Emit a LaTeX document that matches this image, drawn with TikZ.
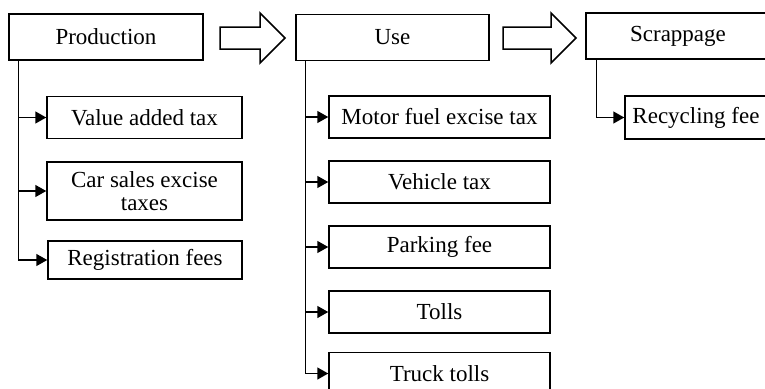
\documentclass[tikz,border=0pt]{standalone}
\usepackage{fontspec}
\setmainfont{Liberation Serif}
\usetikzlibrary{arrows.meta,positioning}

\tikzset{
	box/.style={draw, line width=1.5pt, inner sep=2pt, align=center, font=\fontsize{23}{23}\selectfont},
	stage/.style={box, minimum height=46pt},
	tax/.style={box, minimum height=42pt},
	link/.style={line width=1.5pt, -{Triangle[length=11pt,width=12pt]}},
	hollow/.style={line width=1.5pt, line join=miter},
}

\begin{document}
\begin{tikzpicture}[x=1pt,y=-1pt]
		\useasboundingbox (0,0) rectangle (765,388);
		\clip (0,0) rectangle (765,388);
		% stages
		\node[stage, minimum width=194pt] (prod) at (106,37) {Production};
		\node[stage, minimum width=193pt] (use) at (392.5,37.5) {Use};
		\node[stage, minimum width=184pt] (scrap) at (678,36) {Scrappage};
		% big hollow arrows
		\draw[hollow] (220,27) -- (260,27) -- (260,13) -- (285,38) -- (260,63) -- (260,49) -- (220,49) -- cycle;
		\draw[hollow] (503,27) -- (551,27) -- (551,13) -- (576,38) -- (551,63) -- (551,49) -- (503,49) -- cycle;
		% production taxes
		\node[tax, minimum width=195pt] (vat) at (144.5,117.5) {Value added tax};
		\node[tax, minimum width=195pt, minimum height=58pt] (carsales) at (144.5,191) {Car sales excise\\taxes};
		\node[tax, minimum width=194pt, minimum height=38pt] (reg) at (145,260) {Registration fees};
		% use taxes
		\node[tax, minimum width=221pt] (motor) at (439.5,117) {Motor fuel excise tax};
		\node[tax, minimum width=221pt, below=21.5pt of motor] (vehicle) {Vehicle tax};
		\node[tax, minimum width=221pt, below=21.5pt of vehicle] (parking) {Parking fee};
		\node[tax, minimum width=221pt, below=21.5pt of parking] (tolls) {Tolls};
		\node[tax, minimum width=221pt, below=18pt of tolls] (truck) {Truck tolls};
		% scrappage tax
		\node[tax, minimum width=142pt, minimum height=43pt] (recyc) at (696,117.5) {Recycling fee};
		\draw[link] ([xshift=10pt]prod.south west) |- (vat.west);
		\draw[link] ([xshift=10pt]prod.south west) |- (carsales.west);
		\draw[link] ([xshift=10pt]prod.south west) |- (reg.west);
		\draw[link] ([xshift=10pt]use.south west) |- (motor.west);
		\draw[link] ([xshift=10pt]use.south west) |- (vehicle.west);
		\draw[link] ([xshift=10pt]use.south west) |- (parking.west);
		\draw[link] ([xshift=10pt]use.south west) |- (tolls.west);
		\draw[link] ([xshift=10pt]use.south west) |- (truck.west);
		\draw[link] ([xshift=11pt]scrap.south west) |- (recyc.west);
	\end{tikzpicture}
\end{document}
